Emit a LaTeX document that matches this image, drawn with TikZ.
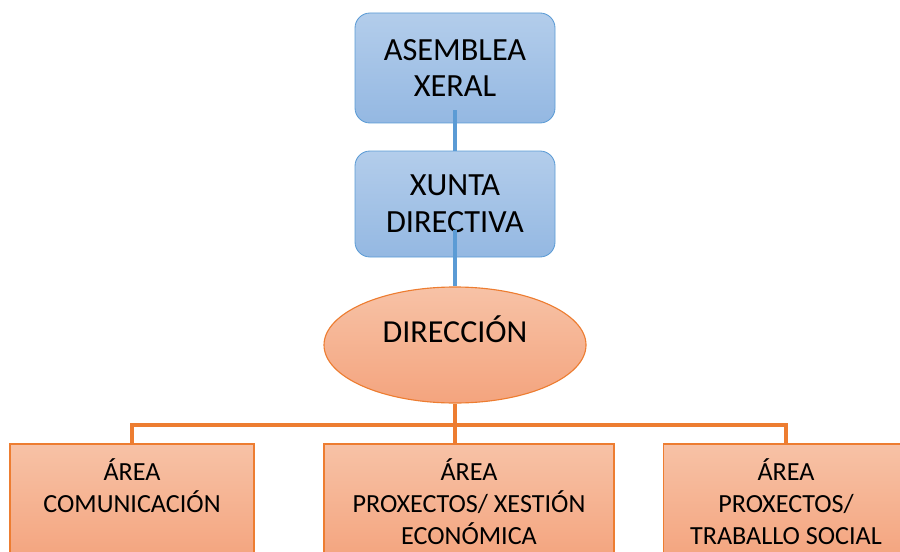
\documentclass[tikz,border=0pt]{standalone}
\usepackage{fontspec}
\setmainfont{Carlito}
\usetikzlibrary{shapes.geometric}
\definecolor{officeblue}{HTML}{5B9BD5}
\definecolor{bluetop}{HTML}{B3CDEB}
\definecolor{bluebottom}{HTML}{94B8E2}
\definecolor{officeorange}{HTML}{ED7D31}
\definecolor{orangetop}{HTML}{F7C2A6}
\definecolor{orangebottom}{HTML}{F4A47E}
\begin{document}
\begin{tikzpicture}[auto, node distance=3.4cm]
    \tikzstyle{block} = [draw=officeblue, line width=0.6pt, rounded corners=0.375cm,
    top color=bluetop, bottom color=bluebottom, minimum width=5cm,
    minimum height=2.75cm, align=center, font=\fontsize{23}{26.3}\selectfont]
    \tikzstyle{boss} = [draw=officeorange, line width=0.8pt, ellipse,
    top color=orangetop, bottom color=orangebottom, minimum width=6.55cm,
    minimum height=2.9cm, text height=14pt, text depth=17pt,
    font=\fontsize{22.8}{26.3}\selectfont]
    \tikzstyle{area} = [draw=officeorange, line width=1pt, rectangle,
    top color=orangetop, bottom color=orangebottom, minimum height=2.9cm,
    align=center, font=\fontsize{18.6}{22.8}\selectfont]
    \tikzstyle{blueline} = [draw=officeblue, line width=2.6pt]
    \tikzstyle{orangeline} = [draw=officeorange, line width=2.8pt]
    \useasboundingbox (0,0) rectangle (22.5,-13.775);
    \clip (0,0) rectangle (22.5,-13.775);
    \node [block] at (11.375,-1.7) (asemblea) {ASEMBLEA\\XERAL};
    \node [block, below of=asemblea, minimum height=2.65cm](xunta){XUNTA\\DIRECTIVA};
    \node [boss, below of=xunta, node distance=3.525cm](direccion){DIRECCIÓN};
    \node [area, below of=direccion, node distance=3.925cm, xshift=0.35cm,
        minimum width=7.25cm](area2){ÁREA\\PROXECTOS/ XESTIÓN\\ECONÓMICA};
    \node [area, left of=area2, node distance=8.425cm,
        minimum width=6.1cm](area1){ÁREA\\COMUNICACIÓN\\~};
    \node [area, right of=area2, node distance=7.925cm,
        minimum width=6.125cm](area3){ÁREA\\PROXECTOS/\\TRABALLO SOCIAL};
    \draw [blueline] ([yshift=0.325cm]asemblea.south) -- (xunta.north);
    \draw [blueline] ([yshift=0.675cm]xunta.south) -- (direccion.north);
    \coordinate [below of=direccion, node distance=2.0cm] (bar);
    \draw [orangeline] (direccion.south) -- (bar);
    \draw [orangeline] (area1.north) |- (bar) -| (area3.north);
    \draw [orangeline] (bar) -- (bar |- area2.north);
\end{tikzpicture}
\end{document}
